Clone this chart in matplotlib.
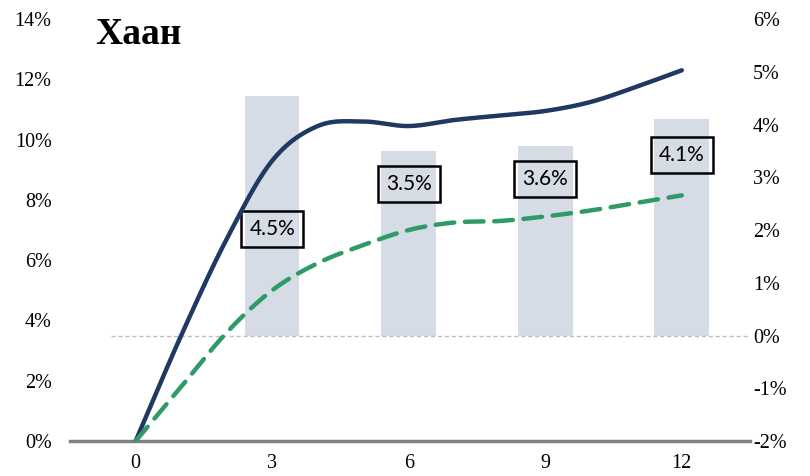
import numpy as np
import matplotlib.pyplot as plt
from matplotlib.ticker import FuncFormatter

# -----------------------------
# Data (percent)
# -----------------------------
months = [0, 1, 2, 3, 4, 5, 6, 7, 8, 9, 10, 11, 12]
line_navy = [0.0, 3.5, 6.7, 9.3, 10.45, 10.6, 10.45, 10.65, 10.8, 10.95, 11.25, 11.75, 12.3]
line_green = [0.0, 1.8, 3.6, 5.0, 5.9, 6.5, 7.0, 7.25, 7.3, 7.45, 7.65, 7.9, 8.15]

bar_x = [3, 6, 9, 12]
bar_vals = [4.55, 3.5, 3.6, 4.1]
bar_labels = ["4.5%", "3.5%", "3.6%", "4.1%"]
label_y = [2.02, 2.87, 2.97, 3.42]  # right-axis position of the boxed labels

left_ticks = [0, 2, 4, 6, 8, 10, 12, 14]
right_ticks = [-2, -1, 0, 1, 2, 3, 4, 5, 6]
x_ticks = [0, 3, 6, 9, 12]


# -----------------------------
# Smooth line drawing (Catmull-Rom, like Excel's smoothed line)
# -----------------------------
def smooth(x, y, steps=20):
    x = np.asarray(x, float)
    y = np.asarray(y, float)
    px = np.concatenate([[2 * x[0] - x[1]], x, [2 * x[-1] - x[-2]]])
    py = np.concatenate([[2 * y[0] - y[1]], y, [2 * y[-1] - y[-2]]])
    xs, ys = [], []
    for i in range(1, len(px) - 2):
        t = np.linspace(0, 1, steps, endpoint=False)
        for p, out in ((px, xs), (py, ys)):
            p0, p1, p2, p3 = p[i - 1], p[i], p[i + 1], p[i + 2]
            out.extend(0.5 * (2 * p1 + (-p0 + p2) * t
                              + (2 * p0 - 5 * p1 + 4 * p2 - p3) * t ** 2
                              + (-p0 + 3 * p1 - 3 * p2 + p3) * t ** 3))
    xs.append(x[-1])
    ys.append(y[-1])
    return np.array(xs), np.array(ys)


serif = "Liberation Serif"
pct = FuncFormatter(lambda v, _: f"{v:.0f}%")

fig = plt.figure(figsize=(8.1, 4.76), dpi=100)
ax = fig.add_axes([0.086, 0.0735, 0.84, 0.8865])
ax2 = ax.twinx()

# bars on the right axis
ax2.bar(bar_x, bar_vals, width=1.2, color="#D6DCE5", zorder=1)
ax2.hlines(0, -0.55, 13.5, colors="#BFBFBF", linestyles=(0, (3, 2)), linewidth=1, zorder=2)
for x, v, t in zip(bar_x, label_y, bar_labels):
    ax2.text(x, v, t, ha="center", va="center", fontsize=15, family="Lato",
             bbox=dict(boxstyle="square,pad=0.38", facecolor="none",
                       edgecolor="black", linewidth=1.8), zorder=5)

# lines on the left axis, drawn above the bars
ax.set_zorder(ax2.get_zorder() + 1)
ax.patch.set_visible(False)
sx, sy = smooth(months, line_navy)
ax.plot(sx, sy, color="#203864", linewidth=3.2, solid_capstyle="round", zorder=4)
gx, gy = smooth(months, line_green)
ax.plot(gx, gy, color="#2E9B67", linewidth=3.2, linestyle=(0, (4.2, 2.4)),
        dash_capstyle="round", zorder=4)

ax.set_xlim(-1.45, 13.5)
ax.set_ylim(0, 14)
ax2.set_ylim(-2, 6)
ax.set_xticks(x_ticks)
ax.set_yticks(left_ticks)
ax2.set_yticks(right_ticks)
ax.yaxis.set_major_formatter(pct)
ax2.yaxis.set_major_formatter(pct)

for a in (ax, ax2):
    for s in a.spines.values():
        s.set_visible(False)
    a.tick_params(length=0, labelsize=14.5)
    for lab in a.get_xticklabels() + a.get_yticklabels():
        lab.set_family(serif)
ax.tick_params(axis="y", pad=13)
ax2.tick_params(axis="y", pad=2)
ax.tick_params(axis="x", pad=9)

ax.axhline(0, color="#808080", linewidth=2.5, zorder=3, clip_on=False)

fig.text(0.117, 1 - 35 / 476, "Хаан", family=serif, fontsize=27, fontweight="bold",
         ha="left", va="center")

fig.savefig("out.png", dpi=100)
